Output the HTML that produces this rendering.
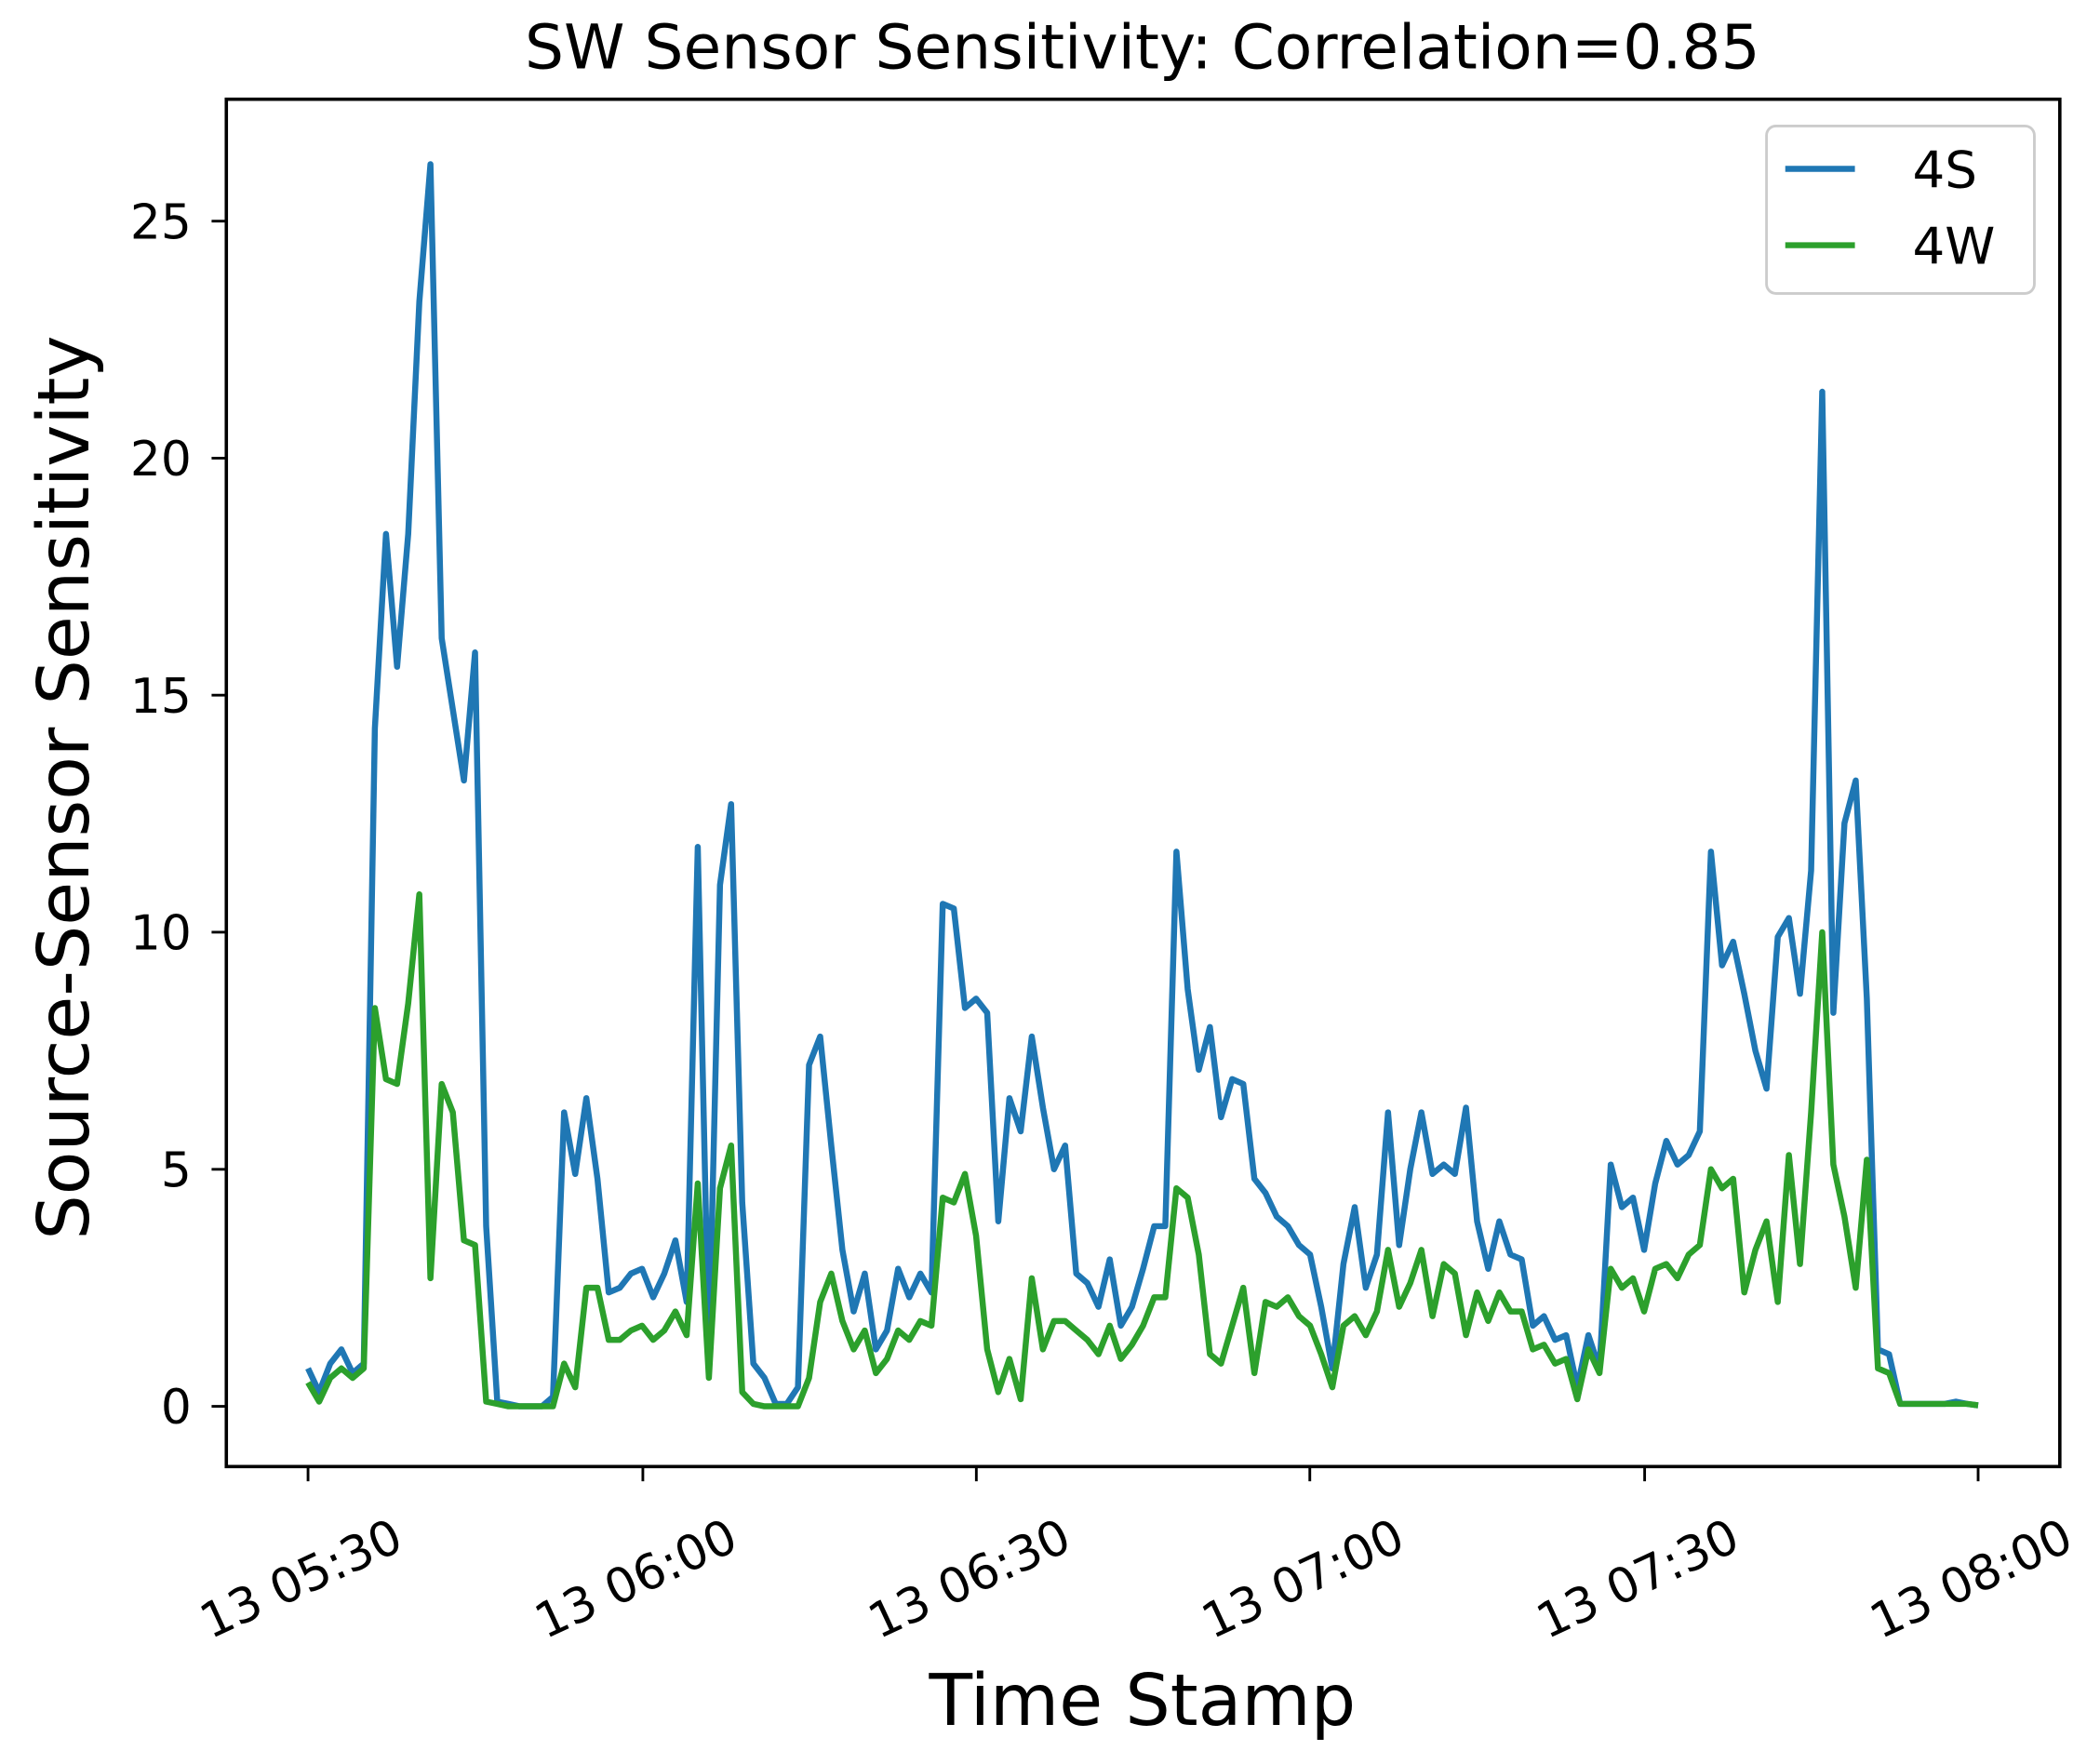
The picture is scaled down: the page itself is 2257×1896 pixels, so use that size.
<!DOCTYPE html>
<html><head><meta charset="utf-8"><style>html,body{margin:0;padding:0;background:#fff}svg{display:block}</style></head>
<body>
<svg id="s" width="2257" height="1896" viewBox="0 0 1568 1317" xmlns="http://www.w3.org/2000/svg" font-family="DejaVu Sans, Liberation Sans, sans-serif">
<rect width="1568" height="1317" fill="#fff"/>
<text x="853" y="51" font-size="46" text-anchor="middle">SW Sensor Sensitivity: Correlation=0.85</text>
<g id="plot"></g>
<rect x="169" y="74" width="1369" height="1021" fill="none" stroke="#000" stroke-width="2.5"/>
<g font-size="36" text-anchor="end">
<text x="143" y="1063">0</text><text x="143" y="886">5</text><text x="143" y="709">10</text><text x="143" y="532">15</text><text x="143" y="355">20</text><text x="143" y="178">25</text>
</g>
<g stroke="#000" stroke-width="2">
<line x1="158" x2="169" y1="1050" y2="1050"/><line x1="158" x2="169" y1="873" y2="873"/><line x1="158" x2="169" y1="696" y2="696"/><line x1="158" x2="169" y1="519" y2="519"/><line x1="158" x2="169" y1="342" y2="342"/><line x1="158" x2="169" y1="165" y2="165"/>
<line x1="230" x2="230" y1="1095" y2="1106"/><line x1="480" x2="480" y1="1095" y2="1106"/><line x1="729" x2="729" y1="1095" y2="1106"/><line x1="978" x2="978" y1="1095" y2="1106"/><line x1="1228" x2="1228" y1="1095" y2="1106"/><line x1="1477" x2="1477" y1="1095" y2="1106"/>
</g>
<g font-size="36" text-anchor="middle">
<text transform="translate(230,1190) rotate(-25)">13 05:30</text>
<text transform="translate(480,1190) rotate(-25)">13 06:00</text>
<text transform="translate(729,1190) rotate(-25)">13 06:30</text>
<text transform="translate(978,1190) rotate(-25)">13 07:00</text>
<text transform="translate(1228,1190) rotate(-25)">13 07:30</text>
<text transform="translate(1477,1190) rotate(-25)">13 08:00</text>
</g>
<text x="853" y="1288" font-size="53" text-anchor="middle">Time Stamp</text>
<text transform="translate(66,588) rotate(-90)" font-size="53" text-anchor="middle">Source-Sensor Sensitivity</text>
<rect x="1319" y="94" width="200" height="125" rx="7" fill="#fff" fill-opacity="0.8" stroke="#ccc" stroke-width="2"/>
<line x1="1333" x2="1385" y1="126" y2="126" stroke="#1f77b4" stroke-width="4.5"/>
<line x1="1333" x2="1385" y1="183" y2="183" stroke="#2ca02c" stroke-width="4.5"/>
<text x="1428" y="140" font-size="38">4S</text>
<text x="1428" y="197" font-size="38">4W</text>
</svg>
<script>
var S=[0.8,0.3,0.9,1.2,0.7,0.9,14.3,18.4,15.6,18.4,23.3,26.2,16.2,14.7,13.2,15.9,3.8,0.1,0.05,0,0,0,0.2,6.2,4.9,6.5,4.8,2.4,2.5,2.8,2.9,2.3,2.8,3.5,2.2,11.8,1.2,11.0,12.7,4.3,0.9,0.6,0.05,0.05,0.4,7.2,7.8,5.5,3.3,2.0,2.8,1.2,1.6,2.9,2.3,2.8,2.4,10.6,10.5,8.4,8.6,8.3,3.9,6.5,5.8,7.8,6.3,5.0,5.5,2.8,2.6,2.1,3.1,1.7,2.1,2.9,3.8,3.8,11.7,8.8,7.1,8.0,6.1,6.9,6.8,4.8,4.5,4.0,3.8,3.4,3.2,2.1,0.8,3.0,4.2,2.5,3.2,6.2,3.4,5.0,6.2,4.9,5.1,4.9,6.3,3.9,2.9,3.9,3.2,3.1,1.7,1.9,1.4,1.5,0.4,1.5,0.8,5.1,4.2,4.4,3.3,4.7,5.6,5.1,5.3,5.8,11.7,9.3,9.8,8.7,7.5,6.7,9.9,10.3,8.7,11.3,21.4,8.3,12.3,13.2,8.6,1.2,1.1,0.05,0.05,0.05,0.05,0.05,0.1,0.05,0.02];
var W=[0.5,0.1,0.6,0.8,0.6,0.8,8.4,6.9,6.8,8.5,10.8,2.7,6.8,6.2,3.5,3.4,0.1,0.05,0,0,0,0,0,0.9,0.4,2.5,2.5,1.4,1.4,1.6,1.7,1.4,1.6,2.0,1.5,4.7,0.6,4.6,5.5,0.3,0.05,0,0,0,0,0.6,2.2,2.8,1.8,1.2,1.6,0.7,1.0,1.6,1.4,1.8,1.7,4.4,4.3,4.9,3.6,1.2,0.3,1.0,0.15,2.7,1.2,1.8,1.8,1.6,1.4,1.1,1.7,1.0,1.3,1.7,2.3,2.3,4.6,4.4,3.2,1.1,0.9,1.7,2.5,0.7,2.2,2.1,2.3,1.9,1.7,1.1,0.4,1.7,1.9,1.5,2.0,3.3,2.1,2.6,3.3,1.9,3.0,2.8,1.5,2.4,1.8,2.4,2.0,2.0,1.2,1.3,0.9,1.0,0.15,1.2,0.7,2.9,2.5,2.7,2.0,2.9,3.0,2.7,3.2,3.4,5.0,4.6,4.8,2.4,3.3,3.9,2.2,5.3,3.0,6.2,10.0,5.1,4.0,2.5,5.2,0.8,0.7,0.05,0.05,0.05,0.05,0.05,0.05,0.05,0.02];
function pts(a){var n=a.length,o=[];for(var i=0;i<n;i++){var x=230+i*(1477-230)/(n-1);o.push(x.toFixed(1)+','+(1050-a[i]*35.4).toFixed(1));}return o.join(' ');}
var g=document.getElementById('plot');
g.innerHTML='<polyline fill="none" stroke="#1f77b4" stroke-width="4.5" stroke-linejoin="round" points="'+pts(S)+'"/><polyline fill="none" stroke="#2ca02c" stroke-width="4.5" stroke-linejoin="round" points="'+pts(W)+'"/>';
</script>
</body></html>
